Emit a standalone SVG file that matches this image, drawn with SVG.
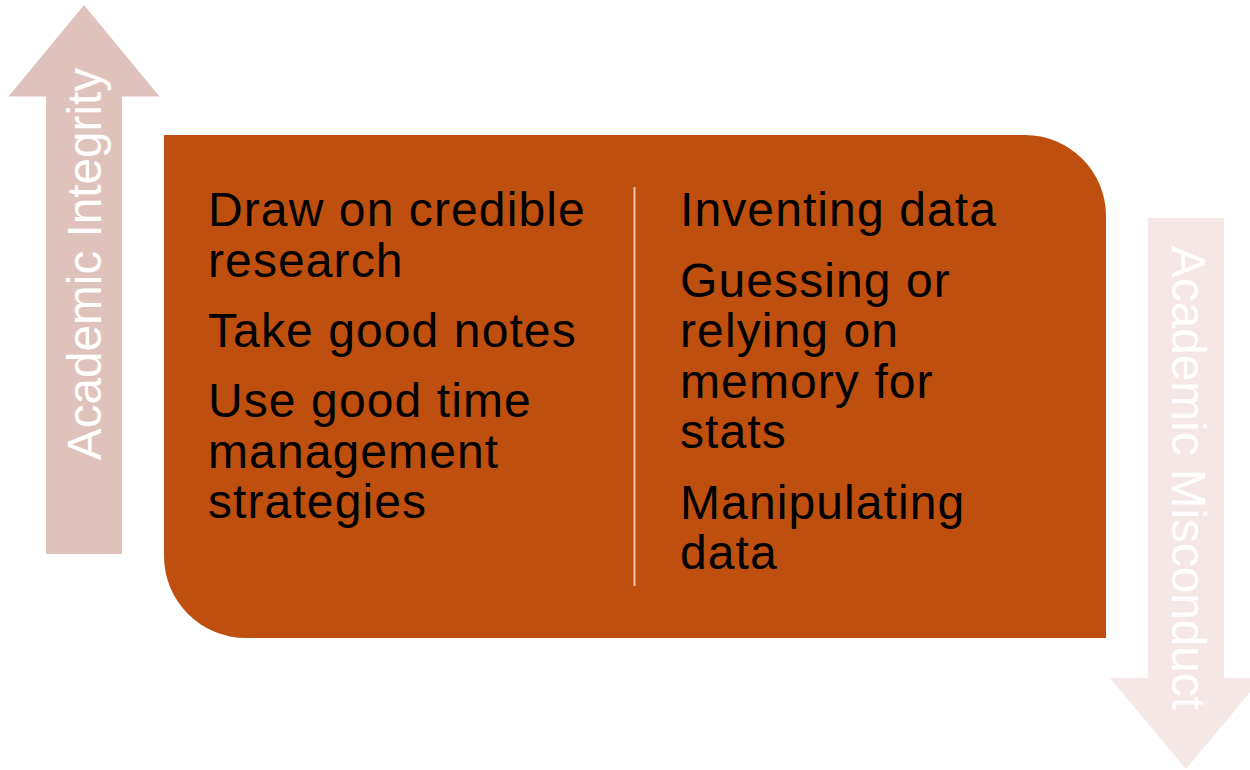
<svg xmlns="http://www.w3.org/2000/svg" width="1250" height="770" viewBox="0 0 1250 770">
<style>
.body{font-family:"Liberation Sans",Arial,sans-serif;font-size:48px;letter-spacing:1.1px;fill:#000}
.side{font-family:"Liberation Sans",Arial,sans-serif;font-size:47.7px;fill:#fff;text-anchor:middle}
</style>
<rect width="1250" height="770" fill="#fff"/>
<g id="arrow-up">
<polygon points="84,5 159.5,96.5 122,96.5 122,554 46,554 46,96.5 8.5,96.5" fill="#E0C2BD"/>
<text class="side" transform="translate(101,264) rotate(-90)">Academic Integrity</text>
</g>
<g id="arrow-down">
<polygon points="1148,218 1224,218 1224,678 1262,678 1186,769 1110,678 1148,678" fill="#F4E7E5"/>
<text class="side" transform="translate(1172,478) rotate(90)">Academic Misconduct</text>
</g>
<g id="panel">
<path d="M164,135 H1025 A81,81 0 0 1 1106,216 V638 H246 A82,82 0 0 1 164,556 Z" fill="#BE4F0E"/>
</g>
<g id="connectors">
<line x1="634.5" y1="187" x2="634.5" y2="586" stroke="#EBC3B5" stroke-width="2"/>
</g>
<g id="left-list">
<text class="body" x="208" y="226">Draw on credible</text>
<text class="body" x="208" y="276.5">research</text>
<text class="body" x="208" y="347">Take good notes</text>
<text class="body" x="208" y="417">Use good time</text>
<text class="body" x="208" y="467.5">management</text>
<text class="body" x="208" y="518">strategies</text>
</g>
<g id="right-list">
<text class="body" x="680" y="226">Inventing data</text>
<text class="body" x="680" y="296.5">Guessing or</text>
<text class="body" x="680" y="347">relying on</text>
<text class="body" x="680" y="397.5">memory for</text>
<text class="body" x="680" y="448">stats</text>
<text class="body" x="680" y="518.5">Manipulating</text>
<text class="body" x="680" y="569">data</text>
</g>
</svg>
